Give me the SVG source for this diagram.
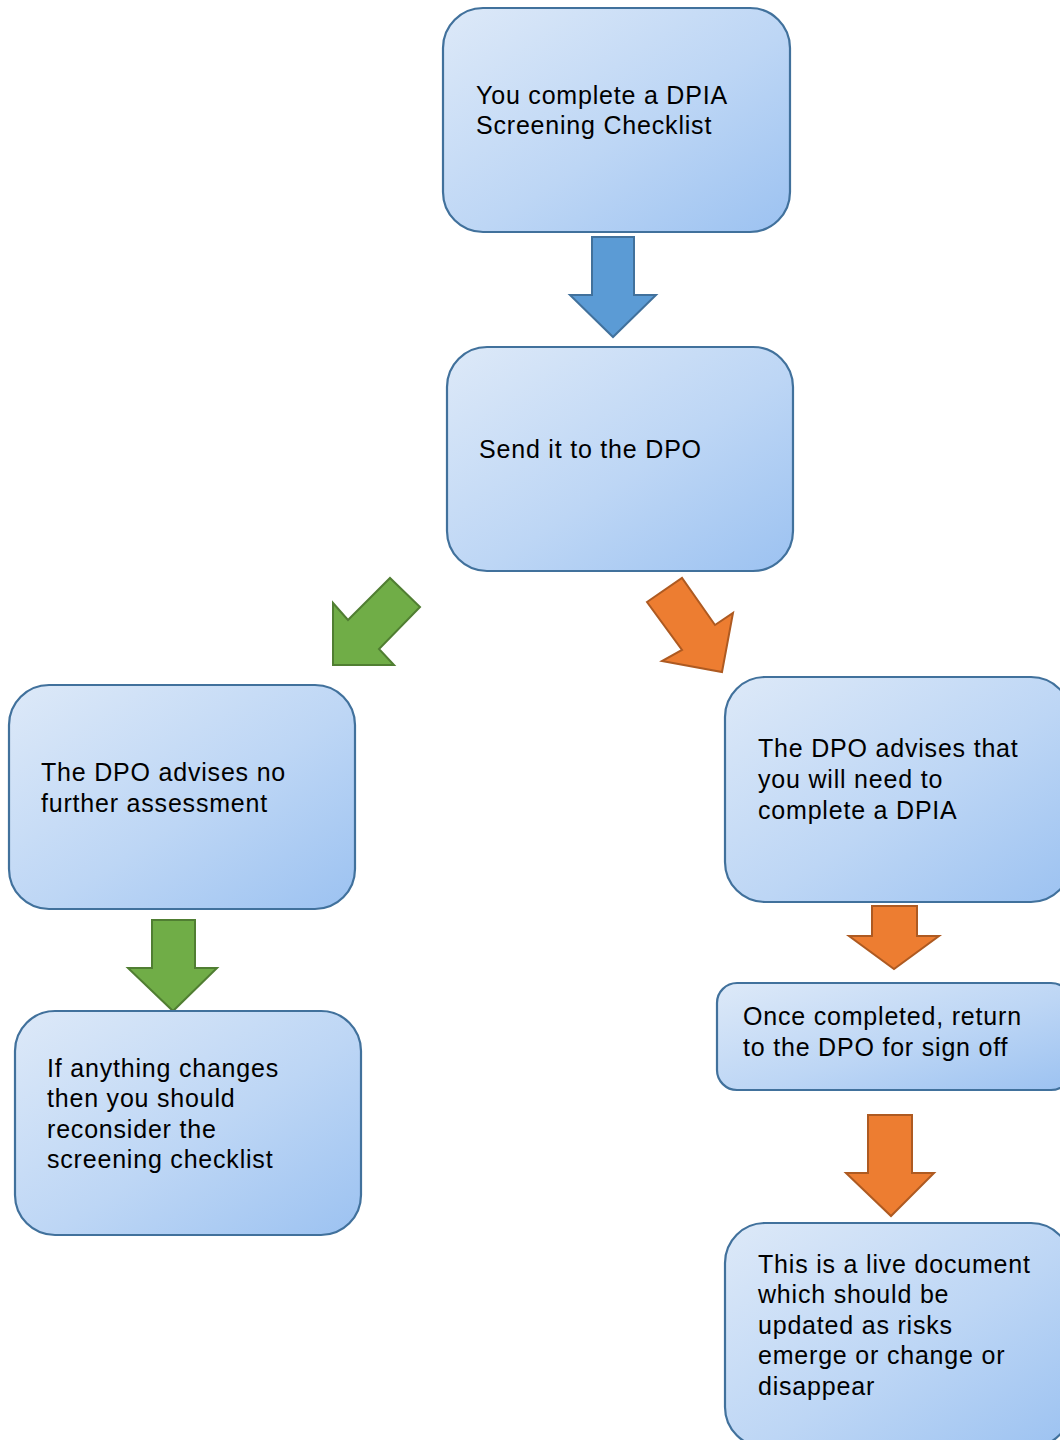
<svg xmlns="http://www.w3.org/2000/svg" width="1060" height="1440" viewBox="0 0 1060 1440">
<style>
.box{fill:url(#g);stroke:#41719c;stroke-width:2.2}
.t{font-family:"Liberation Sans",Arial,sans-serif;font-size:25px;letter-spacing:0.8px;fill:#000}
.blue{fill:#5b9bd5;stroke:#41719c;stroke-width:2}
.green{fill:#70ad47;stroke:#507e32;stroke-width:2}
.orange{fill:#ed7d31;stroke:#ae5a21;stroke-width:2}
</style>
<defs>
<linearGradient id="g" x1="0" y1="0" x2="1" y2="1">
<stop offset="0" stop-color="#dde9f8"/>
<stop offset="0.55" stop-color="#bdd6f5"/>
<stop offset="1" stop-color="#9cc2f1"/>
</linearGradient>
</defs>
<rect width="1060" height="1440" fill="#fff"/>
<g id="connectors">
<polygon class="blue" points="592,237 634,237 634,295 656,295 613,337 570,295 592,295"/>
<polygon class="green" points="333,665 333,603 348,620 390,578 420,607 379,649 394,665"/>
<polygon class="orange" points="647,602 682,578 715,625 733,613 722,672 662,661 682,650"/>
<polygon class="green" points="152,920 195,920 195,968 217,968 173,1011 128,968 152,968"/>
<polygon class="orange" points="872,906 917,906 917,936 939,936 894,969 849,936 872,936"/>
<polygon class="orange" points="868,1115 912,1115 912,1173 934,1173 891,1216 846,1173 868,1173"/>
</g>
<g id="n1">
<rect class="box" x="443" y="8" width="347" height="224" rx="40"/>
<text class="t" x="476" y="104">You complete a DPIA</text>
<text class="t" x="476" y="134">Screening Checklist</text>
</g>
<g id="n2">
<rect class="box" x="447" y="347" width="346" height="224" rx="40"/>
<text class="t" x="479" y="458">Send it to the DPO</text>
</g>
<g id="n3">
<rect class="box" x="9" y="685" width="346" height="224" rx="40"/>
<text class="t" x="41" y="781">The DPO advises no</text>
<text class="t" x="41" y="812">further assessment</text>
</g>
<g id="n4">
<rect class="box" x="15" y="1011" width="346" height="224" rx="40"/>
<text class="t" x="47" y="1077">If anything changes</text>
<text class="t" x="47" y="1107">then you should</text>
<text class="t" x="47" y="1138">reconsider the</text>
<text class="t" x="47" y="1168">screening checklist</text>
</g>
<g id="n5">
<rect class="box" x="725" y="677" width="346" height="225" rx="40"/>
<text class="t" x="758" y="757">The DPO advises that</text>
<text class="t" x="758" y="788">you will need to</text>
<text class="t" x="758" y="819">complete a DPIA</text>
</g>
<g id="n6">
<rect class="box" x="717" y="983" width="354" height="107" rx="20"/>
<text class="t" x="743" y="1025">Once completed, return</text>
<text class="t" x="743" y="1056">to the DPO for sign off</text>
</g>
<g id="n7">
<rect class="box" x="725" y="1223" width="346" height="224" rx="40"/>
<text class="t" x="758" y="1273">This is a live document</text>
<text class="t" x="758" y="1303">which should be</text>
<text class="t" x="758" y="1334">updated as risks</text>
<text class="t" x="758" y="1364">emerge or change or</text>
<text class="t" x="758" y="1395">disappear</text>
</g>
</svg>
